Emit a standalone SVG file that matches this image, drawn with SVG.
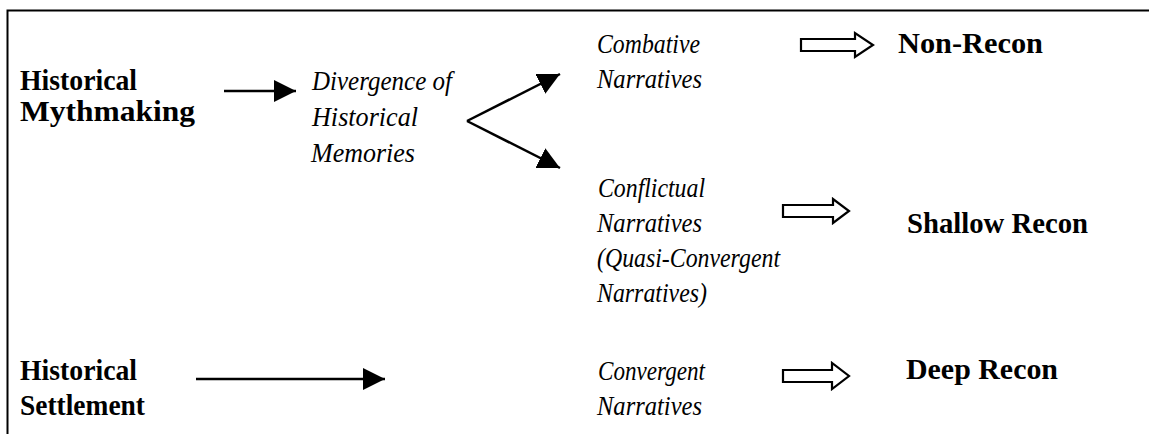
<svg xmlns="http://www.w3.org/2000/svg" width="1149" height="434" viewBox="0 0 1149 434">
<defs>
<style>
.b{font-family:"Liberation Serif","Times New Roman",serif;font-weight:bold;font-size:30px;fill:#000}
.i{font-family:"Liberation Serif","Times New Roman",serif;font-style:italic;font-size:28px;fill:#000}
.ln{stroke:#000;stroke-width:2.5;fill:none}
.ho{stroke:#000;stroke-width:2.2;fill:#fff;stroke-linejoin:miter}
.fr{stroke:#000;stroke-width:2;fill:none}
</style>
<marker id="ah" markerUnits="userSpaceOnUse" markerWidth="22" markerHeight="22" viewBox="0 0 20 20" refX="20" refY="10" orient="auto">
<path d="M0,0 L20,10 L0,20 Z" fill="#000"/>
</marker>
</defs>
<rect width="1149" height="434" fill="#fff"/>
<path class="fr" d="M7.5,434 V10.5 H1149"/>
<g id="hist-myth">
<text class="b" x="20" y="90" textLength="117" lengthAdjust="spacingAndGlyphs">Historical</text>
<text class="b" x="20" y="121" textLength="175" lengthAdjust="spacingAndGlyphs">Mythmaking</text>
</g>
<g id="divergence">
<text class="i" x="312" y="90" textLength="140" lengthAdjust="spacingAndGlyphs">Divergence of</text>
<text class="i" x="312" y="126" textLength="106" lengthAdjust="spacingAndGlyphs">Historical</text>
<text class="i" x="311" y="162" textLength="104" lengthAdjust="spacingAndGlyphs">Memories</text>
</g>
<g id="combative">
<text class="i" x="597" y="53" textLength="103" lengthAdjust="spacingAndGlyphs">Combative</text>
<text class="i" x="597" y="88" textLength="105" lengthAdjust="spacingAndGlyphs">Narratives</text>
</g>
<g id="conflictual">
<text class="i" x="598" y="197" textLength="107" lengthAdjust="spacingAndGlyphs">Conflictual</text>
<text class="i" x="597" y="232" textLength="105" lengthAdjust="spacingAndGlyphs">Narratives</text>
<text class="i" x="597" y="267" textLength="183" lengthAdjust="spacingAndGlyphs">(Quasi-Convergent</text>
<text class="i" x="597" y="302" textLength="110" lengthAdjust="spacingAndGlyphs">Narratives)</text>
</g>
<g id="convergent">
<text class="i" x="598" y="380" textLength="107" lengthAdjust="spacingAndGlyphs">Convergent</text>
<text class="i" x="597" y="415" textLength="105" lengthAdjust="spacingAndGlyphs">Narratives</text>
</g>
<g id="non-recon">
<text class="b" x="898" y="53" textLength="145" lengthAdjust="spacingAndGlyphs">Non-Recon</text>
</g>
<g id="shallow-recon">
<text class="b" x="907" y="233" textLength="181" lengthAdjust="spacingAndGlyphs">Shallow Recon</text>
</g>
<g id="deep-recon">
<text class="b" x="906" y="379" textLength="152" lengthAdjust="spacingAndGlyphs">Deep Recon</text>
</g>
<g id="hist-settle">
<text class="b" x="20" y="380" textLength="117" lengthAdjust="spacingAndGlyphs">Historical</text>
<text class="b" x="20" y="415" textLength="125" lengthAdjust="spacingAndGlyphs">Settlement</text>
</g>
<g id="connectors">
<line class="ln" x1="224" y1="91" x2="296" y2="91" marker-end="url(#ah)"/>
<line class="ln" x1="467" y1="121" x2="560" y2="74" marker-end="url(#ah)"/>
<line class="ln" x1="467" y1="121" x2="560" y2="168" marker-end="url(#ah)"/>
<line class="ln" x1="196" y1="379" x2="385" y2="379" marker-end="url(#ah)"/>
<path class="ho" d="M801,39 H855 V33 L873,45 L855,57 V51 H801 Z"/>
<path class="ho" d="M783,205 H833 V199 L849,211 L833,223 V217 H783 Z"/>
<path class="ho" d="M783,370 H832 V363 L849,376 L832,389 V382 H783 Z"/>
</g>
</svg>
